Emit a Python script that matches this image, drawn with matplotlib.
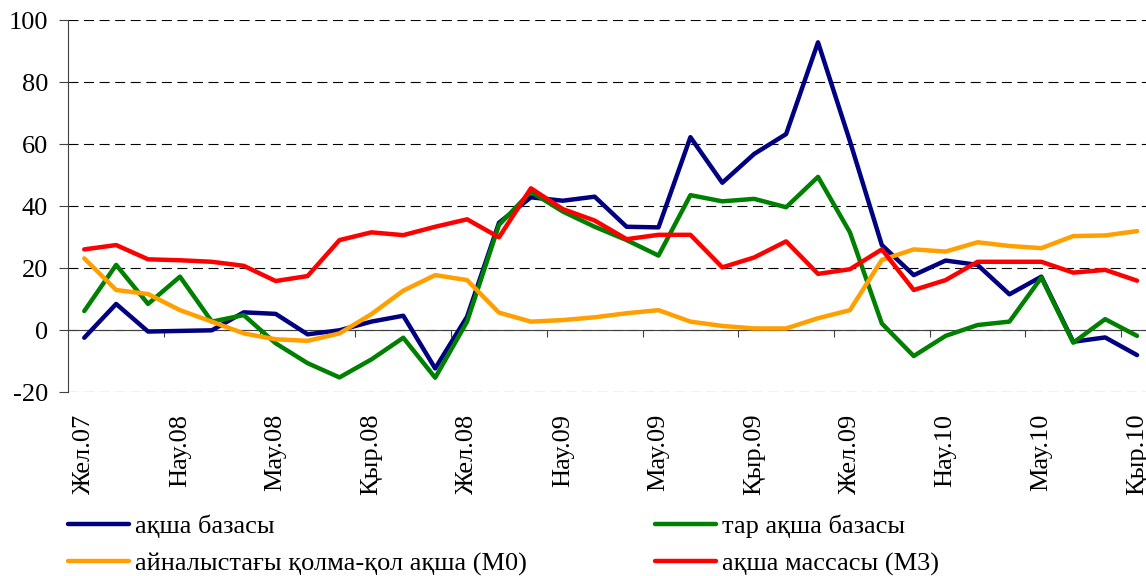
import matplotlib
matplotlib.use("Agg")
import matplotlib.pyplot as plt
import numpy as np

plt.rcParams['font.family'] = ['Liberation Serif', 'DejaVu Serif']
plt.rcParams['axes.unicode_minus'] = False

# month labels, Dec 2007 .. Sep 2010 (34 months), every 3rd one is shown
tick_labels = ['Жел.07', 'Нау.08', 'Мау.08', 'Қыр.08', 'Жел.08', 'Нау.09',
               'Мау.09', 'Қыр.09', 'Жел.09', 'Нау.10', 'Мау.10', 'Қыр.10']
n_months = 34

# series values
money_base = [-2.4, 8.5, -0.4, -0.2, 0.0, 5.8, 5.3, -1.3, 0.0, 2.8,
              4.7, -12.3, 4.4, 34.7, 42.9, 41.8, 43.1, 33.4, 33.2, 62.3,
              47.6, 56.9, 63.3, 92.9, 61.0, 27.5, 17.8, 22.5, 21.1, 11.6,
              17.3, -3.7, -2.3, -8.0]
narrow_base = [6.2, 21.1, 8.5, 17.3, 2.8, 4.9, -4.2, -10.6, -15.2, -9.4,
               -2.4, -15.3, 2.8, 34.0, 44.7, 38.3, 33.4, 29.1, 24.1, 43.6,
               41.6, 42.4, 39.7, 49.5, 31.6, 2.2, -8.3, -1.8, 1.7, 2.8,
               17.0, -4.0, 3.6, -1.8]
cash_m0 = [23.2, 13.0, 11.7, 6.5, 2.8, -1.0, -2.9, -3.4, -1.0, 5.2,
           12.8, 17.8, 16.2, 5.7, 2.8, 3.3, 4.2, 5.5, 6.5, 2.8,
           1.4, 0.6, 0.6, 3.9, 6.5, 22.7, 26.1, 25.4, 28.4, 27.2,
           26.5, 30.4, 30.6, 32.0]
money_m3 = [26.1, 27.5, 22.9, 22.6, 22.1, 20.8, 15.9, 17.5, 29.1, 31.6,
            30.7, 33.4, 35.8, 30.0, 45.8, 39.1, 35.4, 29.4, 30.8, 30.8,
            20.3, 23.5, 28.7, 18.2, 19.7, 26.1, 13.0, 16.2, 22.1, 22.1,
            22.1, 18.6, 19.5, 16.0]

names = ['ақша базасы', 'тар ақша базасы',
         'айналыстағы қолма-қол ақша (М0)', 'ақша массасы (М3)']
colors = ['#000080', '#008000', '#FF9F00', '#FF0000']

fig = plt.figure(figsize=(11.46, 5.76), dpi=100)
ax = fig.add_axes([68.3 / 1146, 183.7 / 576, 1084.7 / 1146, 372.0 / 576])

x = np.arange(n_months)
lines = []
for vals, name, col in zip([money_base, narrow_base, cash_m0, money_m3],
                           names, colors):
    ln, = ax.plot(x, vals, color=col, lw=3.2, label=name,
                  solid_joinstyle='round', solid_capstyle='round', zorder=3)
    lines.append(ln)

ax.set_xlim(-0.5, n_months - 0.5)
ax.set_ylim(-20, 100)

# y axis
ax.set_yticks(np.arange(-20, 101, 20))
ax.yaxis.grid(True, color='black', lw=0.8, linestyle=(0, (9, 5)))
ax.tick_params(axis='y', length=6.5, width=0.8, pad=8, labelsize=19,
               color='#404040')
ax.spines['left'].set_color('#404040')
ax.spines['left'].set_linewidth(0.8)
ax.spines['top'].set_visible(False)
ax.spines['right'].set_visible(False)

# x axis runs along zero, labels sit below the plot
ax.spines['bottom'].set_position(('data', 0))
ax.spines['bottom'].set_color('#404040')
ax.spines['bottom'].set_linewidth(0.8)
ax.spines['bottom'].set_zorder(2)
ax.set_xticks(np.arange(0, n_months, 3))
ax.set_xticklabels(tick_labels, rotation=90, va='top', ha='center')
ax.set_xticks(np.arange(2.5, n_months, 3), minor=True)
ax.tick_params(axis='x', which='major', length=0, pad=60, labelsize=19)
ax.tick_params(axis='x', which='minor', length=5, width=0.8,
               color='#404040', direction='out')
ax.set_axisbelow(True)

# legend: two columns, built as two legends so the columns sit where Excel put them
kw = dict(frameon=False, fontsize=19, handlelength=2.3, handletextpad=0.25,
          borderpad=0, borderaxespad=0, labelspacing=0.51, loc='upper left')
leg1 = fig.legend([lines[0], lines[2]], [names[0], names[2]],
                  bbox_to_anchor=(68 / 1146, 1 - 515 / 576), **kw)
leg2 = fig.legend([lines[1], lines[3]], [names[1], names[3]],
                  bbox_to_anchor=(655 / 1146, 1 - 515 / 576), **kw)

fig.savefig('out.png', dpi=100)
